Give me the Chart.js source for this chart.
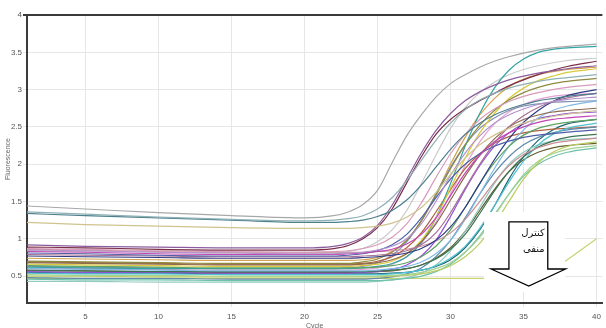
<!DOCTYPE html>
<html>
<head>
<meta charset="utf-8">
<script src="https://cdn.jsdelivr.net/npm/chart.js@4/dist/chart.umd.min.js"></script>
<style>
html, body { margin: 0; padding: 0; background: #fff; }
canvas { display: block; }
</style>
</head>
<body>
<canvas id="chart" width="606" height="328"></canvas>
<script>
const cycles = [1, 5, 10, 15, 20, 22, 23, 24, 25, 26, 27, 28, 29, 30, 31, 32, 33, 34, 35, 36, 37, 38, 40];

const xTicks = [5, 10, 15, 20, 25, 30, 35, 40];
const yTicks = [0.5, 1, 1.5, 2, 2.5, 3, 3.5, 4];

// fluorescence per well (same order as cycles)
const well01 = [1.44, 1.40, 1.35, 1.31, 1.28, 1.31, 1.36, 1.46, 1.65, 2.02, 2.38, 2.66, 2.90, 3.08, 3.20, 3.30, 3.38, 3.44, 3.49, 3.53, 3.56, 3.58, 3.61];
const well02 = [1.36, 1.33, 1.29, 1.26, 1.24, 1.25, 1.27, 1.31, 1.40, 1.55, 1.78, 2.05, 2.32, 2.55, 2.73, 2.86, 2.95, 3.02, 3.07, 3.11, 3.14, 3.16, 3.20];
const well03 = [1.34, 1.31, 1.28, 1.25, 1.22, 1.22, 1.23, 1.25, 1.30, 1.38, 1.52, 1.72, 1.96, 2.20, 2.40, 2.55, 2.66, 2.74, 2.80, 2.85, 2.88, 2.91, 2.95];
const well04 = [1.22, 1.19, 1.17, 1.15, 1.14, 1.14, 1.14, 1.15, 1.17, 1.21, 1.29, 1.42, 1.62, 1.86, 2.08, 2.26, 2.39, 2.48, 2.55, 2.60, 2.64, 2.67, 2.72];
const well05 = [0.92, 0.90, 0.89, 0.88, 0.88, 0.90, 0.94, 1.02, 1.18, 1.45, 1.80, 2.15, 2.45, 2.68, 2.85, 2.97, 3.06, 3.13, 3.18, 3.22, 3.25, 3.28, 3.32];
const well06 = [0.89, 0.88, 0.86, 0.85, 0.85, 0.87, 0.91, 1.00, 1.15, 1.40, 1.75, 2.10, 2.40, 2.60, 2.74, 2.85, 2.95, 3.05, 3.13, 3.20, 3.26, 3.31, 3.38];
const well07 = [0.87, 0.86, 0.84, 0.83, 0.82, 0.83, 0.84, 0.87, 0.92, 1.02, 1.20, 1.48, 1.82, 2.14, 2.40, 2.60, 2.74, 2.84, 2.91, 2.96, 3.00, 3.03, 3.07];
const well08 = [0.85, 0.84, 0.82, 0.81, 0.80, 0.80, 0.81, 0.82, 0.85, 0.90, 1.00, 1.20, 1.50, 1.85, 2.15, 2.38, 2.55, 2.66, 2.74, 2.80, 2.84, 2.87, 2.90];
const well09 = [0.83, 0.82, 0.80, 0.79, 0.79, 0.79, 0.80, 0.81, 0.83, 0.86, 0.93, 1.06, 1.28, 1.58, 1.88, 2.12, 2.30, 2.42, 2.50, 2.56, 2.60, 2.62, 2.65];
const well10 = [0.81, 0.80, 0.78, 0.77, 0.77, 0.77, 0.78, 0.80, 0.84, 0.92, 1.06, 1.28, 1.55, 1.80, 2.00, 2.14, 2.24, 2.31, 2.36, 2.39, 2.41, 2.43, 2.46];
const well11 = [0.79, 0.78, 0.77, 0.76, 0.76, 0.76, 0.76, 0.77, 0.78, 0.80, 0.84, 0.92, 1.08, 1.35, 1.68, 2.00, 2.28, 2.50, 2.65, 2.76, 2.84, 2.89, 2.95];
const well12 = [0.77, 0.76, 0.75, 0.74, 0.74, 0.74, 0.74, 0.75, 0.76, 0.78, 0.81, 0.87, 0.98, 1.16, 1.42, 1.74, 2.06, 2.34, 2.56, 2.72, 2.84, 2.92, 3.00];
const well13 = [0.86, 0.85, 0.83, 0.82, 0.82, 0.82, 0.82, 0.82, 0.83, 0.84, 0.86, 0.90, 0.97, 1.08, 1.26, 1.50, 1.76, 1.98, 2.13, 2.22, 2.28, 2.31, 2.35];
const well14 = [0.70, 0.69, 0.68, 0.67, 0.67, 0.67, 0.67, 0.69, 0.73, 0.82, 0.98, 1.24, 1.58, 1.94, 2.26, 2.52, 2.72, 2.86, 2.96, 3.03, 3.08, 3.11, 3.15];
const well15 = [0.68, 0.67, 0.66, 0.65, 0.65, 0.65, 0.65, 0.66, 0.68, 0.72, 0.80, 0.96, 1.20, 1.52, 1.84, 2.12, 2.34, 2.50, 2.60, 2.66, 2.70, 2.72, 2.75];
const well16 = [0.66, 0.65, 0.64, 0.63, 0.63, 0.63, 0.63, 0.64, 0.66, 0.70, 0.80, 0.98, 1.28, 1.68, 2.08, 2.42, 2.68, 2.88, 3.02, 3.12, 3.18, 3.23, 3.28];
const well17 = [0.64, 0.63, 0.62, 0.61, 0.61, 0.61, 0.61, 0.61, 0.62, 0.64, 0.68, 0.76, 0.90, 1.12, 1.42, 1.74, 2.02, 2.24, 2.39, 2.48, 2.53, 2.56, 2.60];
const well18 = [0.62, 0.61, 0.60, 0.60, 0.60, 0.60, 0.60, 0.61, 0.63, 0.67, 0.76, 0.95, 1.28, 1.74, 2.24, 2.68, 3.02, 3.26, 3.41, 3.50, 3.54, 3.56, 3.58];
const well19 = [0.60, 0.59, 0.58, 0.57, 0.57, 0.57, 0.57, 0.57, 0.58, 0.60, 0.63, 0.69, 0.80, 0.98, 1.26, 1.60, 1.94, 2.24, 2.46, 2.62, 2.72, 2.78, 2.85];
const well20 = [0.58, 0.57, 0.56, 0.56, 0.56, 0.56, 0.56, 0.56, 0.57, 0.58, 0.60, 0.65, 0.73, 0.86, 1.06, 1.34, 1.64, 1.90, 2.10, 2.23, 2.31, 2.36, 2.40];
const well21 = [0.56, 0.55, 0.55, 0.54, 0.54, 0.54, 0.54, 0.55, 0.56, 0.59, 0.65, 0.77, 0.98, 1.30, 1.66, 1.98, 2.24, 2.42, 2.54, 2.61, 2.65, 2.68, 2.70];
const well22 = [0.54, 0.53, 0.53, 0.52, 0.52, 0.52, 0.52, 0.52, 0.52, 0.53, 0.55, 0.58, 0.64, 0.74, 0.90, 1.14, 1.44, 1.76, 2.04, 2.26, 2.40, 2.48, 2.55];
const well23 = [0.52, 0.51, 0.51, 0.50, 0.50, 0.50, 0.50, 0.50, 0.50, 0.51, 0.52, 0.55, 0.60, 0.68, 0.82, 1.02, 1.30, 1.60, 1.86, 2.04, 2.14, 2.20, 2.25];
const well24 = [0.50, 0.50, 0.49, 0.49, 0.49, 0.49, 0.49, 0.49, 0.49, 0.50, 0.51, 0.53, 0.57, 0.64, 0.76, 0.94, 1.20, 1.50, 1.80, 2.02, 2.16, 2.24, 2.30];
const well25 = [0.48, 0.47, 0.47, 0.46, 0.46, 0.46, 0.46, 0.46, 0.47, 0.49, 0.53, 0.61, 0.76, 0.98, 1.28, 1.60, 1.88, 2.10, 2.26, 2.36, 2.42, 2.46, 2.50];
const well26 = [0.46, 0.45, 0.45, 0.44, 0.44, 0.44, 0.44, 0.44, 0.44, 0.45, 0.47, 0.50, 0.56, 0.66, 0.82, 1.04, 1.32, 1.60, 1.84, 2.00, 2.10, 2.16, 2.22];
const well27 = [0.43, 0.43, 0.42, 0.42, 0.42, 0.42, 0.42, 0.42, 0.43, 0.45, 0.48, 0.54, 0.65, 0.84, 1.10, 1.42, 1.74, 2.00, 2.16, 2.26, 2.31, 2.33, 2.35];
const well28 = [0.69, 0.68, 0.67, 0.66, 0.66, 0.66, 0.66, 0.67, 0.70, 0.76, 0.88, 1.08, 1.36, 1.66, 1.94, 2.14, 2.28, 2.37, 2.42, 2.45, 2.47, 2.48, 2.50];
const well29 = [0.63, 0.62, 0.61, 0.60, 0.60, 0.60, 0.61, 0.63, 0.68, 0.78, 0.96, 1.24, 1.60, 1.96, 2.26, 2.48, 2.62, 2.72, 2.78, 2.81, 2.83, 2.84, 2.85];
const well30 = [0.84, 0.83, 0.82, 0.81, 0.81, 0.81, 0.83, 0.87, 0.96, 1.12, 1.38, 1.74, 2.12, 2.48, 2.76, 2.96, 3.10, 3.20, 3.27, 3.32, 3.36, 3.39, 3.42];
const well31 = [0.55, 0.54, 0.54, 0.53, 0.53, 0.53, 0.53, 0.53, 0.53, 0.54, 0.55, 0.58, 0.63, 0.72, 0.88, 1.12, 1.44, 1.80, 2.10, 2.32, 2.46, 2.54, 2.60];
const well32 = [0.60, 0.60, 0.59, 0.58, 0.58, 0.58, 0.58, 0.59, 0.61, 0.66, 0.76, 0.94, 1.22, 1.60, 1.98, 2.30, 2.54, 2.70, 2.80, 2.87, 2.91, 2.93, 2.95];
const well33 = [0.57, 0.57, 0.56, 0.55, 0.55, 0.55, 0.55, 0.55, 0.56, 0.57, 0.60, 0.65, 0.74, 0.88, 1.10, 1.38, 1.66, 1.90, 2.06, 2.16, 2.22, 2.25, 2.28];
const well34 = [0.74, 0.73, 0.72, 0.71, 0.71, 0.71, 0.71, 0.72, 0.75, 0.83, 0.98, 1.24, 1.60, 2.00, 2.36, 2.66, 2.88, 3.04, 3.14, 3.20, 3.24, 3.27, 3.30];
const negControl = [0.47, 0.47, 0.47, 0.47, 0.47, 0.47, 0.47, 0.47, 0.47, 0.47, 0.47, 0.47, 0.47, 0.47, 0.47, 0.47, 0.47, 0.47, 0.47, 0.48, 0.58, 0.72, 1.00];

const wells = [well01, well02, well03, well04, well05, well06, well07, well08, well09, well10,
    well11, well12, well13, well14, well15, well16, well17, well18, well19, well20,
    well21, well22, well23, well24, well25, well26, well27, well28, well29, well30,
    well31, well32, well33, well34, negControl];

const wellColors = ['#a8a8a8', '#8fb0b4', '#4d7f8f', '#cfc48e', '#8c5c9e', '#7a2e48', '#d89bbb', '#b293cc', '#c246b4', '#4e5fa6',
    '#a57094', '#2e3a86', '#c98e95', '#8c8a3e', '#8e6a4e', '#d9c93f', '#5fa362', '#33a3a3', '#7fb9e2', '#3f7353',
    '#9352d3', '#4fc2d2', '#a3d393', '#bccb5e', '#5f8aab', '#6fc2a9', '#93cbc2', '#b1603f', '#7f90b3', '#c9c9c9',
    '#1f6474', '#e2a2d2', '#5f5f2f', '#d2a24f', '#c9d173'];

const noteLines = ['کنترل', 'منفی'];

// arrow callout, in axis units
const note = {
    cover: { x0: 32.3, x1: 37.85, y0: 1.36, y1: 0.29 },
    body: { x0: 34.0, x1: 36.66, top: 1.226, neck: 0.596 },
    head: { x0: 32.78, x1: 37.88, tipX: 35.36, tipY: 0.368 },
    text: { x: 36.45, y: [1.04, 0.83] }
};

const tickFont = "'Liberation Sans Narrow', 'Liberation Sans', Arial, sans-serif";

const arrowPlugin = {
    id: 'arrowNote',
    afterDatasetsDraw(chart) {
        const { ctx, scales: { x, y } } = chart;
        const px = v => x.getPixelForValue(v);
        const py = v => y.getPixelForValue(v);
        ctx.save();
        ctx.fillStyle = '#ffffff';
        ctx.fillRect(px(note.cover.x0), py(note.cover.y0),
            px(note.cover.x1) - px(note.cover.x0), py(note.cover.y1) - py(note.cover.y0));

        ctx.beginPath();
        ctx.moveTo(px(note.body.x0), py(note.body.top));
        ctx.lineTo(px(note.body.x1), py(note.body.top));
        ctx.lineTo(px(note.body.x1), py(note.body.neck));
        ctx.lineTo(px(note.head.x1), py(note.body.neck));
        ctx.lineTo(px(note.head.tipX), py(note.head.tipY));
        ctx.lineTo(px(note.head.x0), py(note.body.neck));
        ctx.lineTo(px(note.body.x0), py(note.body.neck));
        ctx.closePath();
        ctx.fillStyle = '#ffffff';
        ctx.fill();
        ctx.strokeStyle = '#000000';
        ctx.lineWidth = 1.3;
        ctx.stroke();

        ctx.fillStyle = '#111111';
        ctx.font = "10px 'DejaVu Sans', sans-serif";
        ctx.textAlign = 'right';
        ctx.textBaseline = 'alphabetic';
        ctx.direction = 'rtl';
        noteLines.forEach((t, i) => ctx.fillText(t, px(note.text.x), py(note.text.y[i])));
        ctx.restore();
    }
};

new Chart(document.getElementById('chart').getContext('2d'), {
    type: 'line',
    data: {
        datasets: wells.map((vals, i) => ({
            data: vals.map((v, j) => ({ x: cycles[j], y: v })),
            borderColor: wellColors[i],
            borderWidth: 1.2,
            pointRadius: 0,
            cubicInterpolationMode: 'monotone',
            fill: false
        }))
    },
    options: {
        responsive: false,
        animation: false,
        devicePixelRatio: 1,
        layout: { padding: { top: 15, right: 0, left: 0, bottom: 0 } },
        plugins: { legend: { display: false }, tooltip: { enabled: false } },
        scales: {
            x: {
                type: 'linear',
                min: 1,
                max: 40.4,
                afterBuildTicks: s => { s.ticks = xTicks.map(v => ({ value: v })); },
                afterFit: s => { s.height = 25; },
                grid: { color: '#e6e6e6', tickLength: 4 },
                border: { color: '#3a3a3a', width: 2 },
                ticks: { font: { family: tickFont, size: 8 }, color: '#555', padding: 5, maxRotation: 0, autoSkip: false },
                title: { display: true, text: 'Cycle', color: '#666', font: { family: tickFont, size: 7 }, padding: { top: 0, bottom: -2 } }
            },
            y: {
                min: 0.14,
                max: 4,
                afterBuildTicks: s => { s.ticks = yTicks.map(v => ({ value: v })); },
                afterFit: s => { s.width = 27; },
                grid: {
                    color: c => (c.tick && c.tick.value === 4 ? '#3a3a3a' : '#e6e6e6'),
                    lineWidth: c => (c.tick && c.tick.value === 4 ? 2 : 1),
                    tickLength: 4
                },
                border: { color: '#3a3a3a', width: 2 },
                ticks: { font: { family: tickFont, size: 8 }, color: '#555', padding: 1, autoSkip: false,
                    callback: v => String(v) },
                title: { display: true, text: 'Fluorescence', color: '#666', font: { family: tickFont, size: 7 }, padding: { top: 4, bottom: 0 } }
            }
        }
    },
    plugins: [arrowPlugin]
});
</script>
</body>
</html>
